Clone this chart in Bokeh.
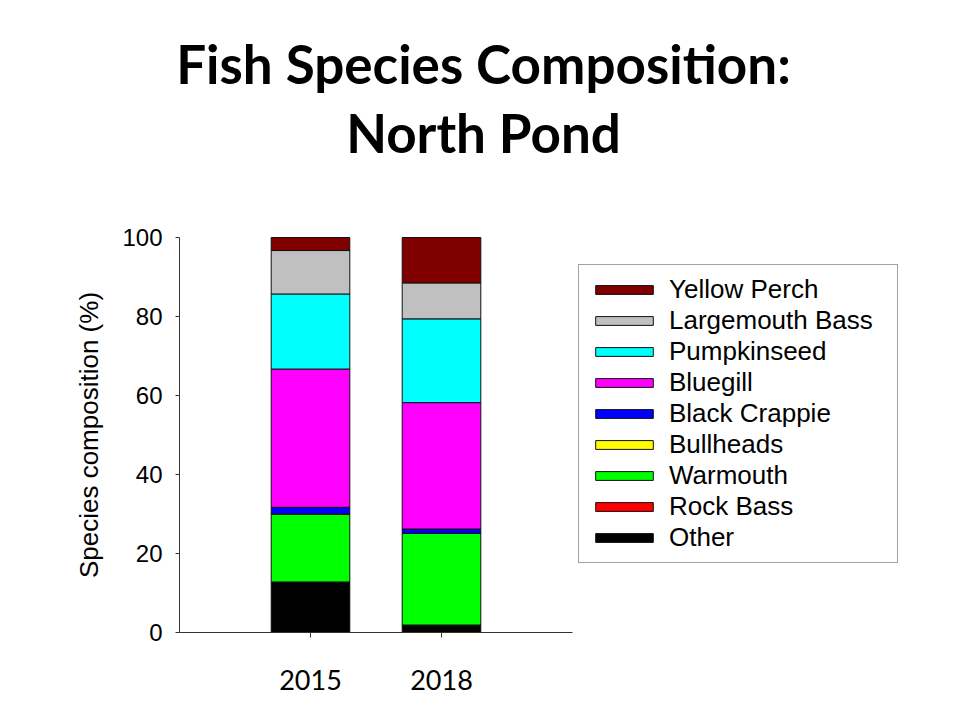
import math
from bokeh.plotting import figure
from bokeh.models import Legend, LegendItem, Label, FixedTicker, Range1d, ColumnDataSource
from bokeh.embed import file_html
from bokeh.resources import INLINE

# ---- data ----
years = ["2015", "2018"]
species = ["Other", "Rock Bass", "Warmouth", "Bullheads", "Black Crappie",
           "Bluegill", "Pumpkinseed", "Largemouth Bass", "Yellow Perch"]
colors = ["#000000", "#FF0000", "#00FF00", "#FFFF00", "#0000FF",
          "#FF00FF", "#00FFFF", "#C0C0C0", "#800000"]
other = [12.8, 1.9]
rock_bass = [0.0, 0.0]
warmouth = [17.2, 23.2]
bullheads = [0.0, 0.0]
black_crappie = [1.7, 1.1]
bluegill = [35.0, 32.0]
pumpkinseed = [19.0, 21.2]
largemouth_bass = [11.0, 9.1]
yellow_perch = [3.3, 11.5]
y_ticks = [0, 20, 40, 60, 80, 100]
title_lines = ["Fish Species Composition:", "North Pond"]
y_label = "Species composition (%)"

values = [other, rock_bass, warmouth, bullheads, black_crappie,
          bluegill, pumpkinseed, largemouth_bass, yellow_perch]
xs = [i + 1 for i in range(len(years))]
data = {"x": xs}
for name, vals in zip(species, values):
    data[name] = vals
source = ColumnDataSource(data)

# ---- layout geometry (pixels) ----
W, H = 944, 705
LEFT, RIGHT, TOP, BOTTOM = 75, 45, 12, 6
AXIS_X0 = 179         # screen x of the y axis line
AXIS_Y0 = 632         # screen y of the x axis line
AXIS_W = 393          # drawn length of the x axis
AXIS_H = 395          # drawn length of the y axis (0..100)
frame_w = W - LEFT - RIGHT
frame_h = H - TOP - BOTTOM
frame_bottom = H - BOTTOM
x_max = len(years) + 1
y_max = max(y_ticks)
ppx = AXIS_W / x_max
ppy = AXIS_H / y_max
x_start = -(AXIS_X0 - LEFT) / ppx
x_end = x_start + frame_w / ppx
y_start = -(frame_bottom - AXIS_Y0) / ppy
y_end = y_start + frame_h / ppy


def sx(px):
    return px - LEFT


def sy(py):
    return frame_bottom - py


p = figure(width=W, height=H, output_backend="svg", toolbar_location=None,
           x_range=Range1d(x_start, x_end), y_range=Range1d(y_start, y_end),
           min_border_left=LEFT, min_border_right=RIGHT,
           min_border_top=TOP, min_border_bottom=BOTTOM)
p.styles = {"outline": "2px solid #000000", "outline-offset": "-4px"}

renderers = p.vbar_stack(species, x="x", width=0.6, fill_color=colors,
                         line_color="#111111", line_width=1, source=source)

p.grid.visible = False
p.outline_line_color = None

# y axis (drawn at x = 0, only over 0..100)
p.yaxis.fixed_location = 0
p.yaxis.bounds = (0, y_max)
p.yaxis.ticker = FixedTicker(ticks=y_ticks)
p.yaxis.minor_tick_line_color = None
p.yaxis.major_tick_in = 0
p.yaxis.major_tick_out = 4
p.yaxis.major_label_standoff = 13
p.yaxis.major_label_text_font = "Liberation Sans"
p.yaxis.major_label_text_font_size = "24px"
p.yaxis.major_label_text_color = "#000000"
p.yaxis.axis_line_color = "#333333"
p.yaxis.major_tick_line_color = "#333333"

# y axis title, centred on the 0..100 axis
p.add_layout(Label(x=sx(88), y=sy(AXIS_Y0 - AXIS_H / 2), x_units="screen", y_units="screen",
                   text=y_label, angle=math.pi / 2,
                   text_align="center", text_baseline="middle",
                   text_font="Liberation Sans", text_font_size="26px",
                   text_color="#000000"))

# x axis (drawn at y = 0, only over 0..3)
p.xaxis.fixed_location = 0
p.xaxis.bounds = (0, x_max)
p.xaxis.ticker = FixedTicker(ticks=xs)
p.xaxis.major_label_overrides = {x: y for x, y in zip(xs, years)}
p.xaxis.minor_tick_line_color = None
p.xaxis.major_tick_in = 0
p.xaxis.major_tick_out = 5
p.xaxis.major_label_standoff = 32
p.xaxis.major_label_text_font = "Lato"
p.xaxis.major_label_text_font_size = "27px"
p.xaxis.major_label_text_color = "#000000"
p.xaxis.axis_line_color = "#333333"
p.xaxis.major_tick_line_color = "#333333"

# legend (top item = top of stack)
items = [LegendItem(label=s, renderers=[r]) for s, r in zip(species, renderers)][::-1]
legend = Legend(items=items, location=(sx(578), sy(563)),
                glyph_width=72, glyph_height=11, label_height=29, spacing=0,
                label_standoff=9, label_width=219, padding=9, margin=0,
                label_text_font="Liberation Sans", label_text_font_size="26px",
                label_text_color="#000000",
                border_line_color="#444444", border_line_width=1,
                background_fill_color="#FFFFFF", background_fill_alpha=1.0)
p.add_layout(legend)

# title (two centred lines)
for text, base in zip(title_lines, [63, 132]):
    p.add_layout(Label(x=sx(483), y=sy(base), x_units="screen", y_units="screen", text=text,
                       text_align="center", text_baseline="alphabetic",
                       text_font="Lato", text_font_size="53px",
                       text_font_style="bold", text_color="#000000"))

open("out.html", "w").write(file_html(p, INLINE))
